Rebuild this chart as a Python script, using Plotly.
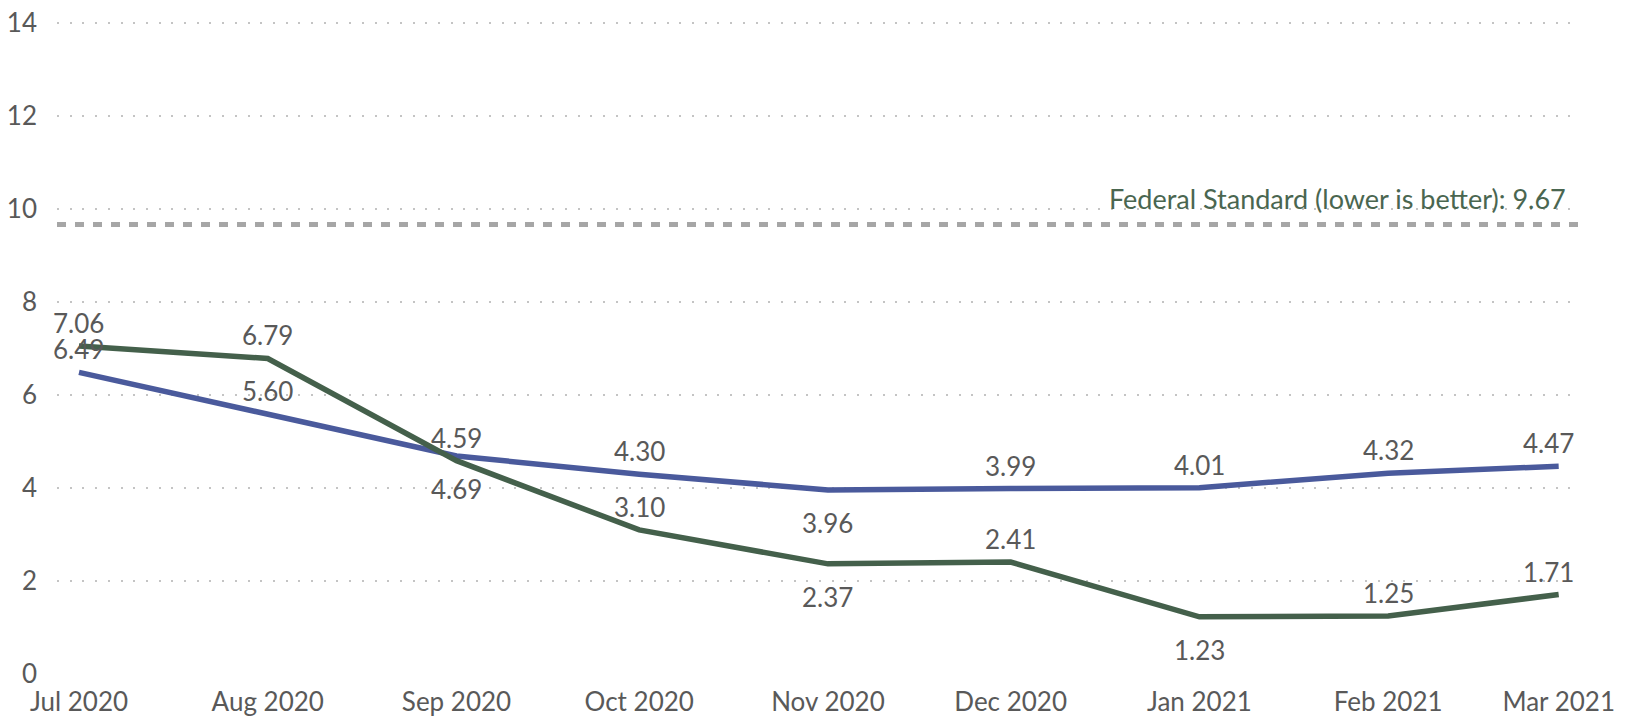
import plotly.graph_objects as go

dates = ["2020-07-01", "2020-08-01", "2020-09-01", "2020-10-01", "2020-11-01",
         "2020-12-01", "2021-01-01", "2021-02-01", "2021-03-01"]
months = ["Jul 2020", "Aug 2020", "Sep 2020", "Oct 2020", "Nov 2020",
          "Dec 2020", "Jan 2021", "Feb 2021", "Mar 2021"]
blue_values = [6.49, 5.60, 4.69, 4.30, 3.96, 3.99, 4.01, 4.32, 4.47]
green_values = [7.06, 6.79, 4.59, 3.10, 2.37, 2.41, 1.23, 1.25, 1.71]
federal_standard = 9.67
y_ticks = [0, 2, 4, 6, 8, 10, 12, 14]

# where each data label sits: above (1) or below (-1) its point
blue_side = [1, 1, -1, 1, -1, 1, 1, 1, 1]
green_side = [1, 1, 1, 1, -1, 1, -1, 1, 1]

font_family = "Lato, 'Open Sans', sans-serif"
label_color = "#595959"
blue = "#4a5a9c"
green = "#44604b"

fig = go.Figure()
for values, color, name in [(blue_values, blue, "Blue"), (green_values, green, "Green")]:
    fig.add_trace(
        go.Scatter(
            x=dates,
            y=values,
            mode="lines",
            line=dict(color=color, width=5.5),
            name=name,
        )
    )

# data labels, offset from the line like Excel's
for values, sides in [(blue_values, blue_side), (green_values, green_side)]:
    for i, (d, v, s) in enumerate(zip(dates, values, sides)):
        fig.add_annotation(
            x=d, y=v, text=f"{v:.2f}",
            showarrow=False,
            yshift=23 if s > 0 else -33,
            xshift=-10 if i == len(dates) - 1 else 0,
            font=dict(size=26, color=label_color, family=font_family),
        )

fig.add_shape(
    type="line", xref="paper", x0=0, x1=1.005,
    yref="y", y0=federal_standard, y1=federal_standard,
    line=dict(color="#a6a6a6", width=5, dash="9px,9px"),
)
fig.add_annotation(
    x=1, xref="paper", xanchor="right", xshift=-4,
    y=federal_standard, yref="y", yanchor="bottom", yshift=8,
    text=f"Federal Standard (lower is better): {federal_standard:.2f}",
    showarrow=False,
    font=dict(size=27, color="#4a6650", family=font_family),
)

# the page body adds an 8px offset, so margins are reduced by 8
fig.update_layout(
    width=1626,
    height=717,
    margin=dict(l=49, r=62, t=14, b=51),
    paper_bgcolor="white",
    plot_bgcolor="white",
    showlegend=False,
    font=dict(family=font_family, size=26, color=label_color),
    xaxis=dict(
        type="date",
        range=["2020-06-27 09:20", "2021-03-03 04:30"],
        tickvals=dates,
        ticktext=months,
        showgrid=False,
        showline=False,
        zeroline=False,
        ticks="",
        automargin=False,
        ticklabelstandoff=10,
        ticklabeloverflow="allow",
        tickfont=dict(size=26, color=label_color),
    ),
    yaxis=dict(
        range=[0, 14.03],
        tickvals=y_ticks,
        showgrid=True,
        gridcolor="#c4c4c4",
        gridwidth=2,
        griddash="2px,10.7px",
        zeroline=False,
        showline=False,
        ticks="",
        automargin=False,
        ticklabelstandoff=19,
        ticklabeloverflow="allow",
        tickfont=dict(size=26, color=label_color),
    ),
)

fig.write_html("out.html")
